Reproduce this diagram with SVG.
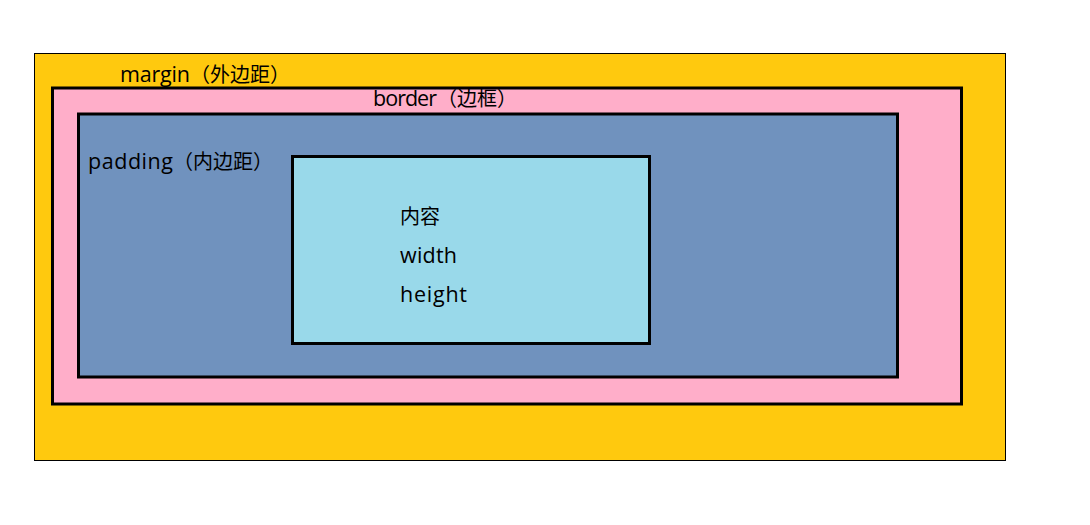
<svg xmlns="http://www.w3.org/2000/svg" width="1090" height="525" viewBox="0 0 1090 525">
<style>
text{font-family:"Open Sans","Noto Sans CJK SC",sans-serif;font-size:20px;fill:#000}
.lt{font-size:21.5px}
.box{stroke:#000;stroke-width:3}
</style>
<rect width="1090" height="525" fill="#fff"/>
<g id="margin">
<rect x="34.5" y="53.5" width="971" height="407" fill="#ffc90e" stroke="#000" stroke-width="1"/>
<text x="120" y="82"><tspan class="lt" textLength="70" lengthAdjust="spacing">margin</tspan><tspan x="190">（外边距）</tspan></text>
</g>
<g id="border">
<rect class="box" x="52.5" y="88" width="909" height="316" fill="#ffaec9"/>
<text x="373" y="106"><tspan class="lt" textLength="64" lengthAdjust="spacing">border</tspan><tspan x="437">（边框）</tspan></text>
</g>
<g id="padding">
<rect class="box" x="78.5" y="114" width="819" height="263" fill="#7092be"/>
<text x="88" y="169"><tspan class="lt" textLength="85" lengthAdjust="spacing">padding</tspan><tspan x="173">（内边距）</tspan></text>
</g>
<g id="content">
<rect class="box" x="292.5" y="156.5" width="357" height="187" fill="#99d9ea"/>
<text x="400" y="224">内容</text>
<text class="lt" x="400" y="263" textLength="57" lengthAdjust="spacing">width</text>
<text class="lt" x="400" y="302" textLength="67" lengthAdjust="spacing">height</text>
</g>
<g id="connectors"/>
</svg>
